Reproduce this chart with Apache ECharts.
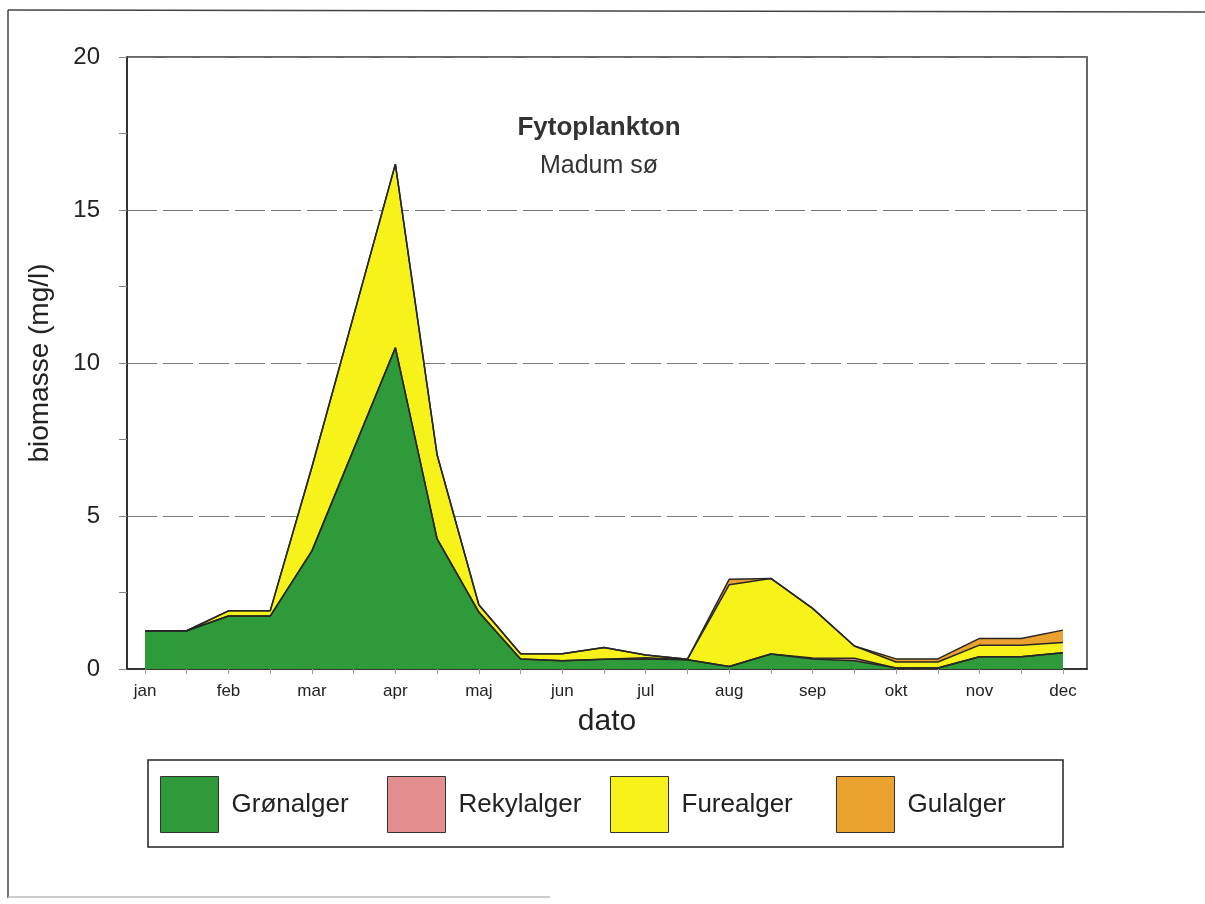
<!DOCTYPE html>
<html>
<head>
<meta charset="utf-8">
<title>Fytoplankton - Madum sø</title>
<script src="https://cdn.jsdelivr.net/npm/echarts@6/dist/echarts.min.js"></script>
<style>
  html, body { margin: 0; padding: 0; background: #fff; }
  #chart { width: 1205px; height: 904px; }
</style>
</head>
<body>
<div id="chart"></div>
<script>
// month labels (jan = 0 ... dec = 11)
var monthNames = ['jan', 'feb', 'mar', 'apr', 'maj', 'jun', 'jul', 'aug', 'sep', 'okt', 'nov', 'dec'];

// sampling dates, in months from 1 january
var sampleMonths = [0, 0.5, 1, 1.5, 2, 3, 3.5, 4, 4.5, 5, 5.5, 6, 6.5, 7, 7.5, 8, 8.5, 9, 9.5, 10, 10.5, 11];

// biomasse (mg/l) per group
var gronalger  = [1.25, 1.25, 1.73, 1.73, 3.86, 10.5, 4.25, 1.86, 0.33, 0.27, 0.32, 0.33, 0.30, 0.08, 0.49, 0.33, 0.27, 0.03, 0.03, 0.40, 0.40, 0.53];
var rekylalger = [0, 0, 0, 0, 0, 0, 0, 0, 0, 0, 0, 0.04, 0, 0, 0, 0.03, 0.08, 0, 0, 0, 0, 0];
var furealger  = [0, 0, 0.17, 0.17, 2.74, 6.0, 2.75, 0.24, 0.17, 0.23, 0.38, 0.09, 0.02, 2.67, 2.47, 1.62, 0.40, 0.20, 0.20, 0.38, 0.38, 0.34];
var gulalger   = [0, 0, 0, 0, 0, 0, 0, 0, 0, 0, 0, 0, 0, 0.18, 0, 0, 0, 0.10, 0.10, 0.22, 0.22, 0.40];

var groups = ['Grønalger', 'Rekylalger', 'Furealger', 'Gulalger'];
var colors = ['#2f9a3a', '#e38f8f', '#f7f219', '#eba12e'];

var yTicks = [0, 5, 10, 15, 20];

var fontFam = '"Liberation Sans", Arial, sans-serif';

// [biomasse, month] so the stack goes on the biomasse (y) dimension
function pairs(vals) {
  return sampleMonths.map(function (m, i) { return [vals[i], m]; });
}

var halfMonths = [];
for (var h = 0; h <= 22; h++) halfMonths.push(h / 2);

function area(name, vals, color) {
  return {
    name: name,
    type: 'line',
    stack: 'biomasse',
    data: pairs(vals),
    dimensions: [{ name: 'biomasse', type: 'float' }, { name: 'maaned', type: 'float' }],
    encode: { x: 'maaned', y: 'biomasse' },
    symbol: 'none',
    color: color,
    itemStyle: { color: color },
    lineStyle: { color: '#262626', width: 1.5 },
    areaStyle: { color: color, opacity: 1 },
    emphasis: { disabled: true },
    animation: false
  };
}

// one legend per item so the spacing matches the original box
var legendLefts = [160, 387, 610, 836];
var legends = groups.map(function (g, i) {
  return {
    data: [g],
    left: legendLefts[i],
    top: 776,
    padding: 0,
    icon: 'rect',
    itemWidth: 58,
    itemHeight: 56,
    itemStyle: { borderColor: '#333', borderWidth: 1 },
    textStyle: { fontSize: 26, color: '#222', fontFamily: fontFam, padding: [0, 0, 0, 8] },
    selectedMode: false
  };
});

var myChart = echarts.init(document.getElementById('chart'));

var option = {
  backgroundColor: '#fff',
  animation: false,
  textStyle: { fontFamily: fontFam },
  title: {
    text: 'Fytoplankton',
    subtext: 'Madum sø',
    left: 594,
    top: 110,
    textAlign: 'center',
    itemGap: 13,
    textStyle: { fontSize: 26, fontWeight: 'bold', color: '#333', fontFamily: fontFam },
    subtextStyle: { fontSize: 25, color: '#333', fontFamily: fontFam }
  },
  grid: {
    left: 127,
    right: 118,
    top: 57,
    bottom: 235,
    show: true,
    borderColor: '#333',
    borderWidth: 1.5,
    backgroundColor: 'transparent'
  },
  legend: legends,
  xAxis: {
    type: 'value',
    min: -0.216,
    max: 11.288,
    name: 'dato',
    nameLocation: 'middle',
    nameGap: 38,
    nameTextStyle: { fontSize: 30, color: '#222' },
    axisLine: { show: true, onZero: false, lineStyle: { color: '#222', width: 1.5 } },
    axisTick: {
      show: true,
      customValues: halfMonths,
      length: 5,
      lineStyle: { color: '#999' }
    },
    axisLabel: {
      customValues: monthNames.map(function (n, i) { return i; }),
      formatter: function (v) { return monthNames[Math.round(v)]; },
      fontSize: 17,
      color: '#222',
      margin: 14
    },
    splitLine: { show: false }
  },
  yAxis: {
    type: 'value',
    min: 0,
    max: 20,
    interval: 5,
    name: 'biomasse (mg/l)',
    nameLocation: 'middle',
    nameGap: 73,
    nameTextStyle: { fontSize: 28, color: '#222' },
    axisLine: { show: true, onZero: false, lineStyle: { color: '#222', width: 1.5 } },
    axisTick: { show: true, length: 8, lineStyle: { color: '#888' } },
    minorTick: { show: true, splitNumber: 2, length: 8, lineStyle: { color: '#888' } },
    axisLabel: {
      customValues: yTicks,
      fontSize: 24,
      color: '#222',
      margin: 27
    },
    splitLine: {
      show: true,
      lineStyle: { color: '#777', width: 1, type: [30, 6] }
    }
  },
  graphic: [
    { type: 'line', shape: { x1: 8, y1: 10, x2: 1205, y2: 12 }, style: { stroke: '#444', lineWidth: 1.5 }, silent: true },
    { type: 'line', shape: { x1: 8, y1: 10, x2: 8, y2: 898 }, style: { stroke: '#444', lineWidth: 1.5 }, silent: true },
    { type: 'line', shape: { x1: 8, y1: 897, x2: 550, y2: 897 }, style: { stroke: '#bbb', lineWidth: 1.5 }, silent: true },
    // legend frame
    { type: 'rect', shape: { x: 148, y: 760, width: 915, height: 87 }, style: { fill: 'none', stroke: '#222', lineWidth: 1.5 }, silent: true, z: 10 }
  ],
  series: groups.map(function (g, i) {
    return area(g, [gronalger, rekylalger, furealger, gulalger][i], colors[i]);
  })
};

myChart.setOption(option);
</script>
</body>
</html>
